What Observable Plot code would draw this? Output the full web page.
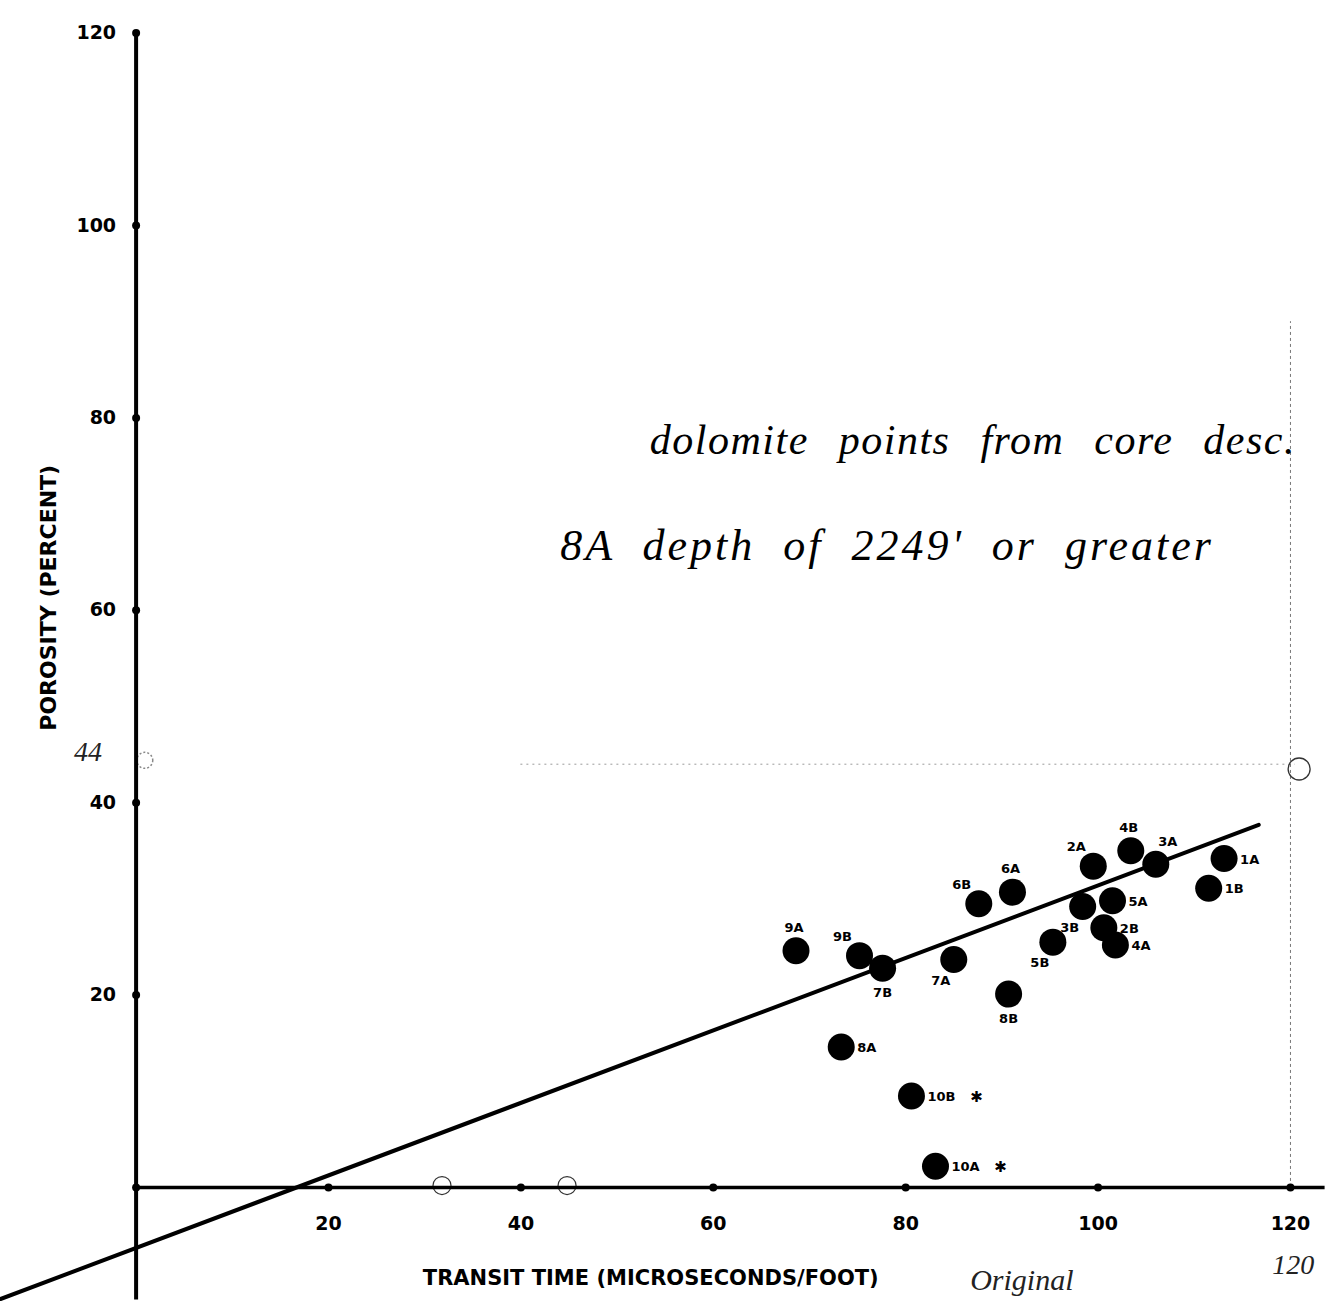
<!DOCTYPE html>
<html>
<head>
<meta charset="utf-8">
<script src="https://cdn.jsdelivr.net/npm/d3@7"></script>
<script src="https://cdn.jsdelivr.net/npm/@observablehq/plot@0.6"></script>
<style>
  html, body { margin: 0; padding: 0; background: #fff; }
  #chart { width: 1332px; height: 1310px; overflow: hidden; }
</style>
</head>
<body>
<div id="chart"></div>
<script>
// ---- data ----
const pointLabels = ["1A","1B","2A","2B","3A","3B","4A","4B","5A","5B","6A","6B","7A","7B","8A","8B","9A","9B","10A","10B"];
const transitTime = [113.1,111.5,99.5,100.6,106.0,98.4,101.8,103.4,101.5,95.3,91.1,87.6,85.0,77.6,73.3,90.7,68.6,75.2,83.1,80.6];
const porosity    = [34.2,31.1,33.4,27.0,33.6,29.2,25.2,35.0,29.8,25.5,30.7,29.5,23.7,22.8,14.6,20.1,24.6,24.1,2.2,9.5];
const labelSide   = ["E","E","NW","E","NE","SW","E","N","E","SW","N","NW","SW","S","E","S","N","NW","E","E"];
const starred     = [false,false,false,false,false,false,false,false,false,false,false,false,false,false,false,false,false,false,true,true];

const xTicks = [20, 40, 60, 80, 100, 120];
const yTicks = [20, 40, 60, 80, 100, 120];

// fitted line (end points)
const fitX = [-14.1, 116.7];
const fitY = [-11.6, 37.7];

const xTitle = "TRANSIT TIME (MICROSECONDS/FOOT)";
const yTitle = "POROSITY (PERCENT)";
const noteLine1 = "dolomite points from core desc.";
const noteLine2 = "8A depth of 2249' or greater";

// ---- build ----
const points = pointLabels.map((label, i) => ({label, x: transitTime[i], y: porosity[i], side: labelSide[i], star: starred[i]}));

const sideStyle = {
  E:  {dx: 16,  dy: 1,   textAnchor: "start"},
  N:  {dx: -2,  dy: -23, textAnchor: "middle"},
  S:  {dx: 0,   dy: 25,  textAnchor: "middle"},
  NW: {dx: -17, dy: -19, textAnchor: "middle"},
  SW: {dx: -13, dy: 21,  textAnchor: "middle"},
  NE: {dx: 12,  dy: -22, textAnchor: "middle"}
};

const bold = "DejaVu Sans, Liberation Sans, Arial, sans-serif";
const hand = "Liberation Serif, DejaVu Serif, serif";

const labelMarks = Object.entries(sideStyle).map(([side, s]) =>
  Plot.text(points.filter(d => d.side === side), {
    x: "x", y: "y", text: "label", dx: s.dx, dy: s.dy, textAnchor: s.textAnchor,
    fontSize: 13, fontWeight: "bold", fill: "black", fontFamily: bold
  })
);

const chart = Plot.plot({
  width: 1332,
  height: 1310,
  margin: 0,
  x: {domain: [-14.096, 124.37], axis: null},
  y: {domain: [-12.79, 123.39], axis: null},
  style: {background: "white", fontFamily: bold},
  marks: [
    // pencil annotations (faint)
    Plot.ruleY([44], {x1: 40, x2: 120.5, stroke: "#9a9a9a", strokeWidth: 1, strokeDasharray: "2,4"}),
    Plot.ruleX([120], {y1: 0, y2: 90, stroke: "#777", strokeWidth: 1, strokeDasharray: "3,3"}),
    Plot.dot([{x: 0.9, y: 44.4}], {x: "x", y: "y", r: 8, stroke: "#888", strokeDasharray: "2,2", fill: "none"}),
    Plot.dot([{x: 120.9, y: 43.5}], {x: "x", y: "y", r: 11, stroke: "#333", strokeWidth: 1.3, fill: "none"}),
    Plot.dot([{x: 31.8, y: 0.2}, {x: 44.8, y: 0.2}], {x: "x", y: "y", r: 9, stroke: "#333", strokeWidth: 1.2, fill: "none"}),

    // axes
    Plot.ruleX([0], {y1: -11.7, y2: 120, stroke: "black", strokeWidth: 4}),
    Plot.ruleY([0], {x1: 0, x2: 123.6, stroke: "black", strokeWidth: 3.5}),
    Plot.dot(yTicks, {x: 0, y: d => d, r: 4, fill: "black"}),
    Plot.dot([0, ...xTicks], {x: d => d, y: 0, r: 4, fill: "black"}),
    Plot.text(yTicks, {x: 0, y: d => d, text: d => String(d), dx: -20, textAnchor: "end",
      fontSize: 19, fontWeight: "bold", fontFamily: bold, fill: "black"}),
    Plot.text(xTicks, {x: d => d, y: 0, text: d => String(d), dy: 36, textAnchor: "middle",
      fontSize: 19, fontWeight: "bold", fontFamily: bold, fill: "black"}),

    // axis titles
    Plot.text([xTitle], {x: 53.5, y: -9.4, text: d => d, fontSize: 21, fontWeight: "bold", fontFamily: bold, fill: "black"}),
    Plot.text([yTitle], {x: -9.1, y: 61.3, text: d => d, rotate: -90, fontSize: 22, fontWeight: "bold", fontFamily: bold, fill: "black"}),

    // regression line
    Plot.line(fitX.map((x, i) => ({x, y: fitY[i]})), {x: "x", y: "y", stroke: "black", strokeWidth: 4}),

    // data points and labels
    Plot.dot(points, {x: "x", y: "y", r: 13.5, fill: "black"}),
    ...labelMarks,
    Plot.text(points.filter(d => d.star), {x: "x", y: "y", text: () => "✱", dx: 65, dy: 1,
      fontSize: 15, fontWeight: "bold", fill: "black"}),

    // handwritten notes
    Plot.text([noteLine1], {x: 53.4, y: 77.6, text: d => d, textAnchor: "start", fontSize: 42,
      fontStyle: "italic", fontFamily: hand, fill: "black"}),
    Plot.text([noteLine2], {x: 44.1, y: 66.7, text: d => d, textAnchor: "start", fontSize: 44,
      fontStyle: "italic", fontFamily: hand, fill: "black"}),
    Plot.text(["44"], {x: -5.0, y: 45.3, text: d => d, fontSize: 28, fontFamily: hand, fontStyle: "italic", fill: "#222"}),
    Plot.text(["120"], {x: 120.3, y: -8.1, text: d => d, fontSize: 28, fontFamily: hand, fontStyle: "italic", fill: "#222"}),
    Plot.text(["Original"], {x: 86.7, y: -9.7, text: d => d, textAnchor: "start", fontSize: 30, fontFamily: hand, fontStyle: "italic", fill: "#222"})
  ]
});

// handwriting is loosely spaced
d3.select(chart).selectAll("text").filter(function () { return this.textContent === noteLine1; })
  .style("letter-spacing", "1.5px").style("word-spacing", "18px").style("font-weight", "300");
d3.select(chart).selectAll("text").filter(function () { return this.textContent === noteLine2; })
  .style("letter-spacing", "3px").style("word-spacing", "14px").style("font-weight", "300");

document.getElementById("chart").appendChild(chart);
</script>
</body>
</html>
